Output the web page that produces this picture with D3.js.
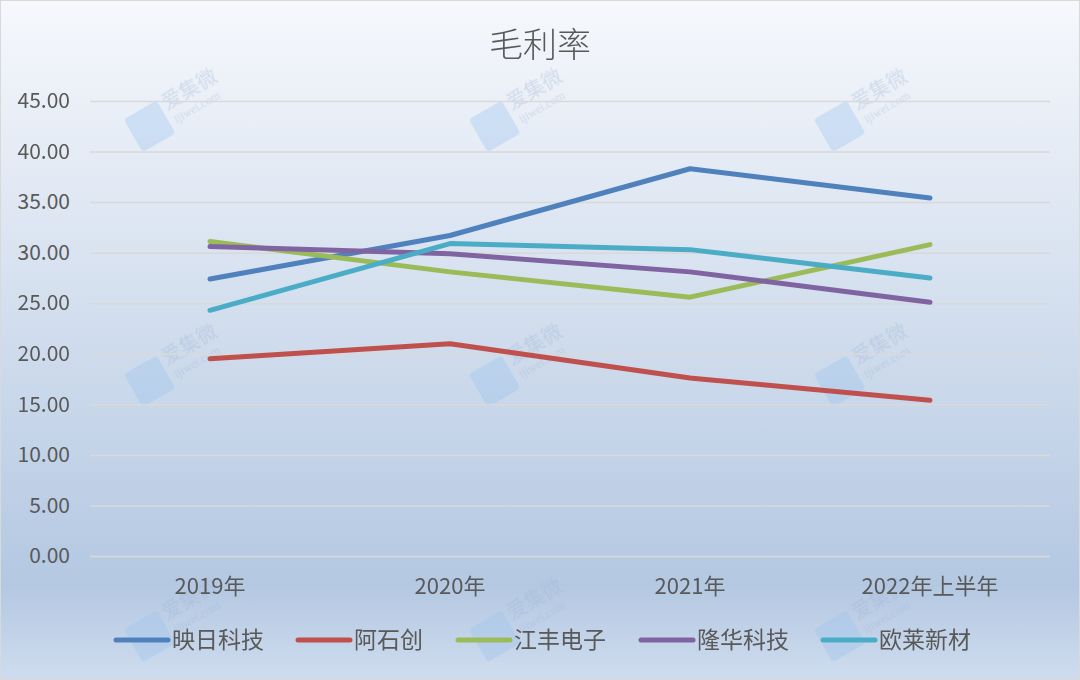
<!DOCTYPE html>
<html>
<head>
<meta charset="utf-8">
<script src="https://cdn.jsdelivr.net/npm/d3@7"></script>
<style>
  body { margin: 0; background: #fff; }
  svg text { font-family: "Noto Sans CJK SC", "Noto Sans", sans-serif; fill: #595959; }
</style>
</head>
<body>
<div id="chart"></div>
<script>
// Data
const periods = ['2019年', '2020年', '2021年', '2022年上半年'];
const companies = ['映日科技', '阿石创', '江丰电子', '隆华科技', '欧莱新材'];
const yingri = [27.4, 31.7, 38.3, 35.4];
const ashichuang = [19.5, 21.0, 17.6, 15.4];
const jiangfeng = [31.1, 28.1, 25.6, 30.8];
const longhua = [30.6, 29.9, 28.1, 25.1];
const oulai = [24.3, 30.9, 30.3, 27.5];
const yTicks = [0, 5, 10, 15, 20, 25, 30, 35, 40, 45];

const seriesValues = [yingri, ashichuang, jiangfeng, longhua, oulai];
const colors = ['#4f81bd', '#c0504d', '#9bbb59', '#8064a2', '#4bacc6'];

const config = {
  width: 1080,
  height: 680,
  margin: {top: 101, right: 30, bottom: 124, left: 90}
};

const svg = d3.select('#chart').append('svg')
    .attr('width', config.width)
    .attr('height', config.height);

// Background gradient like the Excel chart area
const grad = svg.append('defs').append('linearGradient')
    .attr('id', 'bg')
    .attr('x1', 0).attr('y1', 0).attr('x2', 0).attr('y2', 1);
grad.append('stop').attr('offset', '0%').attr('stop-color', '#f6f8fc');
grad.append('stop').attr('offset', '86%').attr('stop-color', '#b4c8e2');
grad.append('stop').attr('offset', '100%').attr('stop-color', '#cedcee');

svg.append('rect')
    .attr('x', 0.5).attr('y', 0.5)
    .attr('width', config.width - 1).attr('height', config.height - 1)
    .attr('fill', 'url(#bg)')
    .attr('stroke', '#d9d9d9');

const innerW = config.width - config.margin.left - config.margin.right;
const innerH = config.height - config.margin.top - config.margin.bottom;

const xScale = d3.scaleBand().domain(periods).range([0, innerW]);
const yScale = d3.scaleLinear().domain([0, 45]).range([innerH, 0]);

// Watermarks (faint)
const wmX = [150, 495, 840];
const wmY = [125, 380, 635];
const wm = svg.append('g').attr('opacity', 0.35);
wmX.forEach(x => wmY.forEach(y => {
  const g = wm.append('g').attr('transform', `translate(${x},${y}) rotate(-30)`);
  g.append('rect').attr('x', -20).attr('y', -18).attr('width', 38).attr('height', 38)
      .attr('rx', 4).attr('fill', '#9cc3ee');
  g.append('text').attr('x', 22).attr('y', -4).attr('font-size', 20)
      .style('fill', '#9fb4d4').text('爱集微');
  g.append('text').attr('x', 24).attr('y', 12).attr('font-size', 12)
      .style('fill', '#9fb4d4').style('font-family', 'Liberation Serif').text('ijiwei.com');
}));

const chart = svg.append('g')
    .attr('transform', `translate(${config.margin.left},${config.margin.top})`);

// Gridlines + y axis
const yAxis = d3.axisLeft(yScale)
    .tickValues(yTicks)
    .tickSize(-innerW)
    .tickPadding(20)
    .tickFormat(d3.format('.2f'));

chart.append('g')
    .call(yAxis)
    .call(g => g.select('.domain').remove())
    .call(g => g.selectAll('line').attr('stroke', '#d9d9d9').attr('stroke-width', 1.5))
    .call(g => g.selectAll('text').attr('font-size', 21).style('fill', '#595959')
        .style('font-family', '"Noto Sans CJK SC", sans-serif'));

// x axis labels
const xAxis = d3.axisBottom(xScale).tickSize(0).tickPadding(22);
chart.append('g')
    .attr('transform', `translate(0,${innerH})`)
    .call(xAxis)
    .call(g => g.select('.domain').remove())
    .call(g => g.selectAll('text').attr('font-size', 22).style('fill', '#595959')
        .style('font-family', '"Noto Sans CJK SC", sans-serif'));

// Lines
const line = d3.line()
    .x((d, i) => xScale(periods[i]) + xScale.bandwidth() / 2)
    .y(d => yScale(d));

chart.selectAll('.series')
    .data(seriesValues)
  .join('path')
    .attr('class', 'series')
    .attr('d', line)
    .attr('fill', 'none')
    .attr('stroke', (d, i) => colors[i])
    .attr('stroke-width', 5)
    .attr('stroke-linecap', 'round')
    .attr('stroke-linejoin', 'round');

// Title
svg.append('text')
    .attr('x', config.width / 2)
    .attr('y', 57)
    .attr('text-anchor', 'middle')
    .attr('font-size', 34)
    .attr('font-weight', 300)
    .text('毛利率');

// Legend
const legendX = [114, 296, 456, 639, 821];
const legend = svg.append('g').attr('transform', 'translate(0,640)');
const items = legend.selectAll('.legend-item')
    .data(companies)
  .join('g')
    .attr('class', 'legend-item')
    .attr('transform', (d, i) => `translate(${legendX[i]},0)`);

items.append('line')
    .attr('x1', 2).attr('x2', 54)
    .attr('stroke', (d, i) => colors[i])
    .attr('stroke-width', 5)
    .attr('stroke-linecap', 'round');

items.append('text')
    .attr('x', 58)
    .attr('dy', '0.35em')
    .attr('font-size', 23)
    .text(d => d);
</script>
</body>
</html>
